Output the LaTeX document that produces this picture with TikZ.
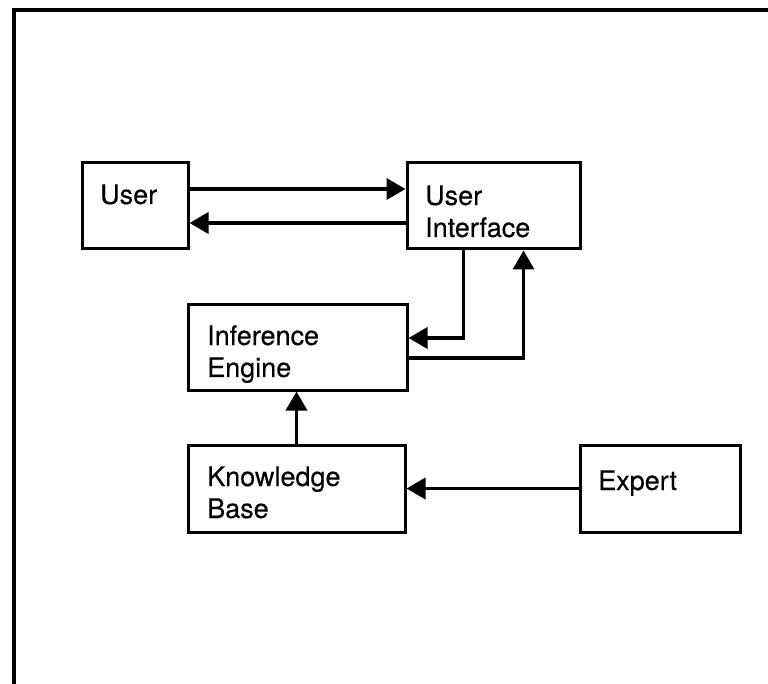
\documentclass[tikz,border=0pt]{standalone}
\usepackage{fontspec}
\setmainfont{TeX Gyre Heros}
\newfontfamily\lblfont[FakeBold=0.35]{TeX Gyre Heros}
\usetikzlibrary{arrows.meta}

\tikzset{
  box/.style={draw, line width=3pt, rectangle, inner sep=0pt, minimum height=86pt},
  lbl/.style={anchor=base west, inner sep=0pt, align=left,
              font=\lblfont\fontsize{27}{32}\selectfont},
  arr/.style={line width=3.6pt, -{Triangle[length=19pt,width=21pt]}},
  frameline/.style={line width=3.5pt}
}

\begin{document}
\begin{tikzpicture}[x=1pt, y=-1pt]
  \useasboundingbox (0,0) rectangle (768,684);

  % open frame: top edge and left edge
  \coordinate (frTR) at (768,10);
  \coordinate (frTL) at (14,10);
  \coordinate (frBL) at (14,684);
  \draw[frameline] (frTR) -- (frTL) -- (frBL);

  % boxes
  \node[box, minimum width=106pt] (user)   at (135,206)   {};
  \node[box, minimum width=173pt] (ui)     at (493.5,206) {};
  \node[box, minimum width=219pt, minimum height=85pt] (ie) at (297.5,347.5) {};
  \node[box, minimum width=217pt, minimum height=87pt] (kb) at (296.5,488.5) {};
  \node[box, minimum width=160pt, minimum height=87pt] (expert) at (660,488.5) {};

  % labels (base anchor sits on the last line)
  \node[lbl] (userT)   at (100,204) {User};
  \node[lbl] (uiT)     at (425,237) {User\\Interface};
  \node[lbl] (ieT)     at (207,377) {Inference\\Engine};
  \node[lbl] (kbT)     at (207,518) {Knowledge\\Base};
  \node[lbl] (expertT) at (598,490) {Expert};

  % connectors
  \draw[arr] ([yshift=17pt]user.east) -- ([yshift=17pt]user.east -| ui.west);
  \draw[arr] ([yshift=-17pt]ui.west) -- ([yshift=-17pt]ui.west -| user.east);
  \draw[arr] ([xshift=58pt]ui.south west) |- ([yshift=9.5pt]ie.east);
  \draw[arr] ([yshift=-10.5pt]ie.east) -| ([xshift=118pt]ui.south west);
  \draw[arr] (kb.north) -- (kb.north |- ie.south);
  \draw[arr] (expert.west) -- (expert.west -| kb.east);
\end{tikzpicture}
\end{document}
